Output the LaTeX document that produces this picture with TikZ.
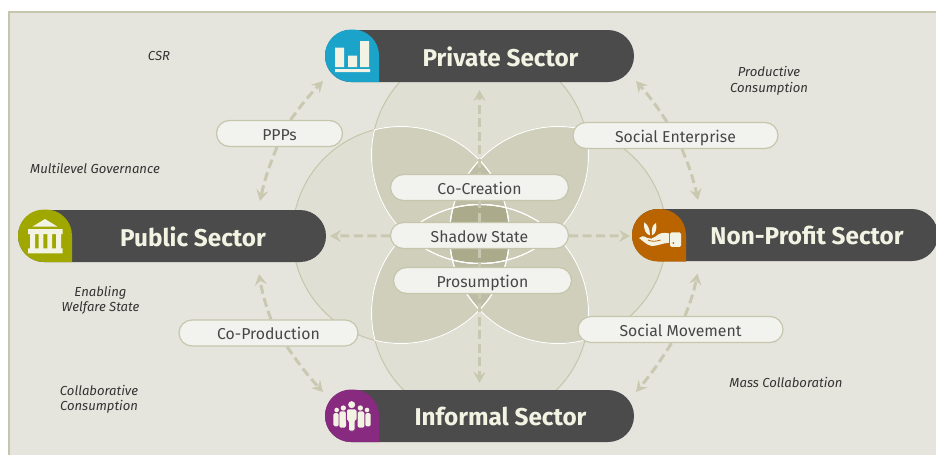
\documentclass[tikz,border=0pt]{standalone}
\usepackage{fontspec}
\setmainfont{Fira Sans}
\usetikzlibrary{arrows.meta}
\pgfdeclarelayer{under}
\pgfsetlayers{under,main}
\definecolor{panel}{HTML}{E5E5DD}
\definecolor{rim}{HTML}{C6C6AC}
\definecolor{petalA}{HTML}{DFDFD3}
\definecolor{petalB}{HTML}{CFCFBC}
\definecolor{petalC}{HTML}{BDBDA5}
\definecolor{petalD}{HTML}{ABAB8C}
\definecolor{petalE}{HTML}{CACAB5}
\definecolor{barc}{HTML}{4B4B4B}
\definecolor{cream}{HTML}{F2F3E3}
\definecolor{pillc}{HTML}{F2F3EE}
\definecolor{linkc}{HTML}{C9C9B1}
\definecolor{blueb}{HTML}{1BA3C9}
\definecolor{oliveb}{HTML}{A0A800}
\definecolor{orangeb}{HTML}{BA6400}
\definecolor{purpleb}{HTML}{872A80}
\tikzset{
  sectorbar/.style={fill=barc,rounded corners=26pt,minimum width=#1,minimum height=52pt,inner sep=0pt,anchor=center},
  barlabel/.style={text=cream,font=\fontsize{24.3}{26}\selectfont\bfseries,inner sep=0pt},
  pill/.style={draw=rim,line width=1.2pt,fill=pillc,rounded corners=13pt,minimum width=#1,minimum height=26pt,inner sep=0pt,text=black!72,text height=14.7pt,text depth=1.3pt,font=\fontsize{15.8}{17}\selectfont},
  note/.style={font=\fontsize{13.1}{15.5}\selectfont\itshape,text=black!80,align=center,inner sep=0pt},
  link/.style={draw=linkc,line width=3pt,dash pattern=on 9pt off 4.5pt,-{Stealth[length=11pt,width=12pt,inset=4pt]}},
}
\newcommand{\badgeshape}[3]{%
  \fill[#3] (#1+54,#2+26) [rounded corners=26pt] -- (#1+54,#2) -- (#1,#2) -- (#1,#2+52.5) [sharp corners] -- (#1+54,#2+52.5) -- cycle;}
\begin{document}
\begin{tikzpicture}[x=1pt,y=-1pt]
\useasboundingbox (0,0) rectangle (936,455);

% sector bars
\node[sectorbar=309pt] (private) at (479.5,56) {};
\node[sectorbar=308pt] (public) at (172,236) {};
\node[sectorbar=306pt] (nonprofit) at (785,235) {};
\node[sectorbar=309pt] (informal) at (479.5,416) {};
\node[barlabel] (privatetext) at (500.5,56.5) {Private Sector};
\node[barlabel] (publictext) at (193,236.5) {Public Sector};
\node[barlabel] (nonprofittext) at (807,235.5) {Non-Profit Sector};
\node[barlabel] (informaltext) at (500.5,416.5) {Informal Sector};

% pills
\node[pill=126pt] (ppps) at (279.5,133.5) {PPPs};
\node[pill=205pt] (enterprise) at (675.5,135.5) {Social Enterprise};
\node[pill=178pt] (cocreation) at (479.5,187.5) {Co-Creation};
\node[pill=178pt] (shadow) at (479.5,235.5) {Shadow State};
\node[pill=178pt] (prosumption) at (482.5,280.5) {Prosumption};
\node[pill=179pt] (coproduction) at (268.5,333) {Co-Production};
\node[pill=205pt] (movement) at (680.5,329.5) {Social Movement};

% notes
\node[note] (csr) at (159,55.5) {CSR};
\node[note] (productive) at (769,81) {Productive\\Consumption};
\node[note] (multilevel) at (95,168.5) {Multilevel Governance};
\node[note] (enabling) at (100.5,300.5) {Enabling\\Welfare State};
\node[note] (collab) at (99,399.5) {Collaborative\\Consumption};
\node[note] (masscollab) at (786,382.5) {Mass Collaboration};

% free ends of the connectors
\coordinate (tipA) at (323,81);
\coordinate (tipB) at (260,201);
\coordinate (tipC) at (636,81);
\coordinate (tipD) at (698,200);
\coordinate (tipE) at (259,274);
\coordinate (tipF) at (323,392);
\coordinate (tipG) at (697.5,273.5);
\coordinate (tipH) at (636,392);
\coordinate (tipU) at (479.5,90);
\coordinate (tipS) at (479.5,383);
\coordinate (tipL) at (330,236);
\coordinate (tipR) at (630,236);

\begin{pgfonlayer}{under}
  \fill[panel] (9,12) rectangle (936,455);
  \draw[rim,line width=1.5pt] (9,455) -- (9,12) -- (936,12);
  % circles
  \coordinate (cT) at (480,155);
  \coordinate (cB) at (480,313);
  \coordinate (cL) at (401,235);
  \coordinate (cR) at (558,235);
  \foreach \c in {cT,cB,cL,cR} \fill[petalA] (\c) circle (108.5);
  \foreach \a/\b in {cT/cL,cT/cR,cB/cL,cB/cR} {
    \begin{scope}\clip (\a) circle (108.5); \fill[petalB] (\b) circle (108.5);\end{scope}
  }
  \begin{scope}\clip (cT) circle (108.5);\clip (cB) circle (108.5); \fill[petalE] (cL) circle (108.5); \fill[petalE] (cR) circle (108.5);\end{scope}
  \begin{scope}\clip (cL) circle (108.5);\clip (cR) circle (108.5);
    \fill[petalC] (cT) circle (108.5);
    \fill[petalC] (cB) circle (108.5);
    \clip (cT) circle (108.5); \fill[petalD] (cB) circle (108.5);
  \end{scope}
  \foreach \c in {cT,cB,cL,cR} \draw[rim,line width=1pt] (\c) circle (108.5);
  \foreach \a/\b in {cT/cB,cT/cL,cT/cR,cB/cT,cB/cL,cB/cR,cL/cT,cL/cB,cL/cR,cR/cT,cR/cB,cR/cL} {
    \begin{scope}\clip (\b) circle (108.5); \draw[white,line width=1pt] (\a) circle (108.5);\end{scope}
  }
  % connectors
  \draw[link] ([xshift=11pt]ppps.north) to[bend left=4] (tipA);
  \draw[link] ([xshift=-2.5pt]ppps.south) to[bend right=5] (tipB);
  \draw[link] ([xshift=-8.5pt]enterprise.north) to[bend right=4] (tipC);
  \draw[link] ([xshift=6.5pt]enterprise.south) to[bend left=5] (tipD);
  \draw[link] ([xshift=2.5pt]coproduction.north) to[bend left=5] (tipE);
  \draw[link] ([xshift=18.5pt]coproduction.south) to[bend right=4] (tipF);
  \draw[link] ([xshift=4.5pt]movement.north) to[bend right=5] (tipG);
  \draw[link] ([xshift=-9pt]movement.south) to[bend left=4] (tipH);
  \draw[link] (shadow) -- (tipU);
  \draw[link] (shadow) -- (tipS);
  \draw[link] (shadow) -- (tipL);
  \draw[link] (shadow) -- (tipR);
\end{pgfonlayer}

% badges
\badgeshape{325}{29.5}{blueb}
\badgeshape{18}{209.5}{oliveb}
\badgeshape{632}{209}{orangeb}
\badgeshape{325}{389.5}{purpleb}

% chart icon
\fill[cream] (335,47.7) rectangle (344,67) (348,55.7) rectangle (357,67) (360,41) rectangle (369,67) (335,69) rectangle (370,72);
% bank icon
\fill[cream] (32.3,226.7) -- (45,219) -- (57.7,226.7) -- cycle;
\fill[cream] (28,229) rectangle (62.7,234) (30,234) rectangle (35,248.5) (38.7,234) rectangle (43.3,248.5) (47.3,234) rectangle (52,248.5) (56,234) rectangle (61,248.5) (28,248.3) rectangle (62.7,253.3);
% hand icon
\begin{scope}[shift={(620pt,-200pt)},x=0.3333pt,y=-0.3333pt]
  \fill[cream] (72,67) .. controls (82,72) and (90,85) .. (90,106) .. controls (78,104) and (70,88) .. (72,67);
  \fill[cream] (108,69) .. controls (98,74) and (94,84) .. (96,106) .. controls (106,102) and (112,88) .. (108,69);
  \fill[cream] (57,114) .. controls (62,107) and (72,107) .. (82,114) .. controls (90,118) and (98,116) .. (106,110) .. controls (116,100) and (130,96) .. (147,100) -- (147,128) .. controls (128,130) and (110,138) .. (96,138) .. controls (80,136) and (68,122) .. (57,114) -- cycle;
  \fill[cream,rounded corners=1.5pt] (150,97) rectangle (183,141);
  \fill[orangeb] (160,129) circle (3.2);
  \draw[orangeb,line width=0.8pt] (84,120) .. controls (95,126) and (110,124) .. (122,120);
\end{scope}
% people icon
\begin{scope}[shift={(310pt,-380pt)},x=0.3333pt,y=-0.3333pt]
  \foreach \hx/\hy/\hr/\l/\r/\t/\b in {80/90/7/70/86/99/139,171/90/7/166/182/99/139,100/84/8/88/108/94/143,151/84/8/143/163/94/143} {
    \fill[cream] (\hx,\hy) circle (\hr);
    \fill[cream,rounded corners=1.5pt] (\l,\t) rectangle (\r,\b);
  }
  \draw[purpleb,line width=0.9pt,fill=cream,rounded corners=1.5pt] (109,87) -- (141,87) -- (141,123) -- (135,123) -- (135,153) -- (115,153) -- (115,123) -- (109,123) -- cycle;
  \fill[cream] (125,74) circle (10.5);
\end{scope}
\end{tikzpicture}
\end{document}
